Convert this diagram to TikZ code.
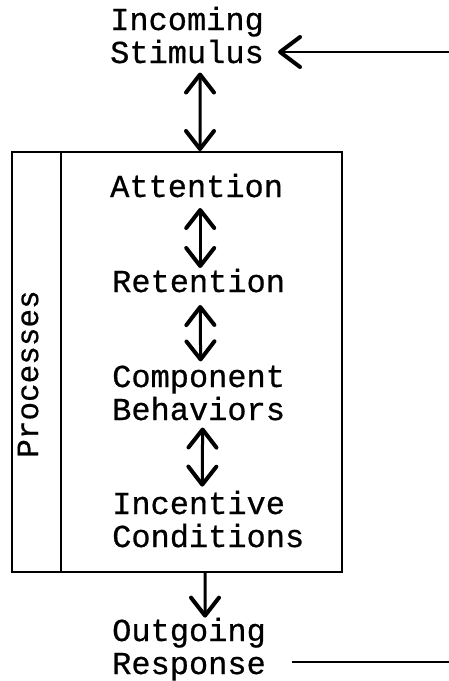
\documentclass[tikz,border=0pt]{standalone}
\usepackage{fontspec}
\setmainfont[FakeBold=0.6]{Liberation Mono}
\usetikzlibrary{arrows.meta,calc}
\begin{document}
\begin{tikzpicture}[x=1pt,y=-1pt,
  lbl/.style={font=\fontsize{32}{33}\selectfont, align=left, inner sep=0pt, anchor=base west},
  frame/.style={draw, line width=2pt, inner sep=0pt, minimum height=420pt},
  barb/.tip={Straight Barb[length=18pt,width=28pt,line width=4pt,round]},
  dbl/.style={line width=3pt, barb-barb},
  one/.style={line width=3pt, -barb},
  feed/.style={line width=2.5pt},
  feedarrow/.style={line width=2.5pt, -{Straight Barb[length=20pt,width=30pt,line width=4pt,round]}}]
\useasboundingbox (0,0) rectangle (449,681);
% texts (anchor = baseline of last line)
\node[lbl] (stim) at (110,63) {Incoming\\Stimulus};
\node[lbl] (att) at (110,197) {Attention};
\node[lbl] (ret) at (112,292) {Retention};
\node[lbl] (comp) at (112,420) {Component\\Behaviors};
\node[lbl] (inc) at (112,547) {Incentive\\Conditions};
\node[lbl] (out) at (112,674) {Outgoing\\Response};
% frame
\node[frame, minimum width=330pt] (box) at (177,362) {};
\node[frame, minimum width=49pt, anchor=north west] (col) at (box.north west) {};
\node[font=\fontsize{31}{33}\selectfont, inner sep=0pt, rotate=90] (proc) at (28,374) {Processes};
% connectors
\coordinate (inR) at (449,52);
\coordinate (outR) at (449,662);
\draw[feedarrow] (inR) -- ($(stim.east |- inR)+(14,0)$);
\draw[dbl] ($(stim.south)+(13,9)$) -- ($(box.north)+(23,0)$);
\draw[dbl] ($(att.base)+(3.6,11)$) -- ($(ret.base)+(1.6,-24)$);
\draw[dbl] ($(ret.base)+(1.6,13)$) -- ($(comp.north)+(2,-4)$);
\draw[dbl] ($(comp.south)+(4,7)$) -- ($(inc.north)+(-6,-4)$);
\draw[one] ($(box.south)+(28,0)$) -- ($(out.north)+(16,0)$);
\draw[feed] ($(out.east |- outR)+(26,0)$) -- (outR);
\end{tikzpicture}
\end{document}
